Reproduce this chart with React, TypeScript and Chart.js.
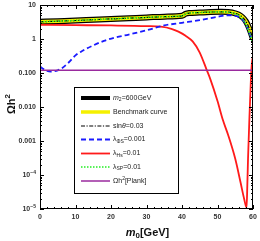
import React, { useEffect, useRef } from "react";
import { Chart, registerables } from "chart.js";

Chart.register(...registerables);

// ---------- data ----------
const m2X = [0, 5, 10, 15, 20, 25, 30, 35, 40, 41, 42, 45, 48, 51, 53, 55, 56, 57, 58, 59, 60];
const m2Values = [3.2, 3.35, 3.5, 3.7, 3.9, 4.1, 4.3, 4.55, 4.8, 5.5, 5.8, 6.0, 6.2, 6.3, 6.2, 5.7, 5.2, 4.4, 3.3, 2.0, 1.0];
const benchX = [0, 5, 10, 15, 20, 25, 30, 35, 40, 41, 42, 45, 48, 51, 53, 55, 56, 57, 58, 59, 60];
const benchValues = [3.2, 3.35, 3.5, 3.7, 3.9, 4.1, 4.3, 4.55, 4.8, 5.5, 5.8, 6.0, 6.2, 6.3, 6.2, 5.7, 5.2, 4.4, 3.3, 2.0, 1.0];
const sinX = [0, 5, 10, 15, 20, 25, 30, 35, 40, 41, 42, 45, 48, 51, 53, 55, 56, 57, 58, 59, 60];
const sinValues = [3.2, 3.35, 3.5, 3.7, 3.9, 4.1, 4.3, 4.55, 4.8, 5.5, 5.8, 6.0, 6.2, 6.3, 6.2, 5.7, 5.2, 4.4, 3.3, 2.0, 1.0];
const lamPhiSX = [0, 1, 2, 3, 4, 5, 6, 8, 10, 12, 15, 18, 21, 25, 30, 35, 40, 45, 50, 53, 55, 56, 57, 58, 59, 60];
const lamPhiSValues = [0.155, 0.13, 0.115, 0.11, 0.112, 0.12, 0.135, 0.2, 0.33, 0.45, 0.65, 0.88, 1.1, 1.35, 1.8, 2.5, 3.0, 3.6, 4.5, 5.0, 4.9, 4.5, 3.8, 2.7, 1.5, 0.8];
const lamHsX = [0, 10, 20, 30, 34, 37, 39, 41, 43, 45, 47, 48, 50, 51.5, 53, 55, 56.5, 57.5, 58.2, 58.4, 58.6, 59, 59.4, 59.7, 60];
const lamHsValues = [2.6, 2.55, 2.5, 2.4, 2.3, 2.0, 1.65, 1.25, 0.85, 0.4, 0.12, 0.065, 0.015, 0.0042, 0.0015, 0.0003, 0.00006, 0.00002, 0.000011, 0.00005, 0.0003, 0.005, 0.06, 0.2, 0.3];
const lamSPX = [0, 5, 10, 15, 20, 25, 30, 35, 40, 41, 42, 45, 48, 51, 53, 55, 56, 57, 58, 59, 60];
const lamSPValues = [3.2, 3.35, 3.5, 3.7, 3.9, 4.1, 4.3, 4.55, 4.8, 5.5, 5.8, 6.0, 6.2, 6.3, 6.1, 5.5, 4.9, 3.9, 2.7, 1.5, 0.75];
const planckX = [0, 60];
const planckValues = [0.12, 0.12];

const xTickValues = [0, 10, 20, 30, 40, 50, 60];
const xTickLabels = ["0", "10", "20", "30", "40", "50", "60"];
const yTickValues = [10, 1, 0.1, 0.01, 0.001, 1e-4, 1e-5];
const yTickLabels = ["10", "1", "0.100", "0.010", "0.001", "10^-4", "10^-5"];

type Part = { t: string; i?: boolean; sub?: boolean; sup?: boolean; b?: boolean };
const legendParts: Part[][] = [
  [{ t: "m", i: true }, { t: "2", sub: true }, { t: "=600GeV" }],
  [{ t: "Benchmark curve" }],
  [{ t: "sin" }, { t: "θ", i: true }, { t: "=0.03" }],
  [{ t: "λ" }, { t: "ΦS", sub: true }, { t: "=0.001" }],
  [{ t: "λ" }, { t: "Hs", sub: true }, { t: "=0.01" }],
  [{ t: "λ" }, { t: "SP", sub: true }, { t: "=0.01" }],
  [{ t: "Ωh" }, { t: "2", sup: true }, { t: "[Plank]" }],
];

const FONT = '"Liberation Sans", Arial, sans-serif';

function pts(xs: number[], ys: number[]) {
  return xs.map((x, i) => ({ x, y: ys[i] }));
}

function drawRich(ctx: CanvasRenderingContext2D, x: number, y: number, parts: Part[], size: number, bold = false) {
  ctx.textBaseline = "middle";
  ctx.textAlign = "left";
  for (const p of parts) {
    const s = p.sub || p.sup ? size * 0.72 : size;
    ctx.font = `${p.i ? "italic " : ""}${bold || p.b ? "bold " : ""}${s}px ${FONT}`;
    const dy = p.sub ? size * 0.3 : p.sup ? -size * 0.38 : 0;
    ctx.fillText(p.t, x, y + dy);
    x += ctx.measureText(p.t).width;
  }
  return x;
}

function richWidth(ctx: CanvasRenderingContext2D, parts: Part[], size: number, bold = false) {
  let w = 0;
  for (const p of parts) {
    const s = p.sub || p.sup ? size * 0.72 : size;
    ctx.font = `${p.i ? "italic " : ""}${bold || p.b ? "bold " : ""}${s}px ${FONT}`;
    w += ctx.measureText(p.t).width;
  }
  return w;
}

function labelParts(lbl: string): Part[] {
  if (lbl.includes("^")) {
    const [a, b] = lbl.split("^");
    return [{ t: a }, { t: b.replace("-", "−"), sup: true }];
  }
  return [{ t: lbl }];
}

const decorPlugin = {
  id: "decor",
  afterDatasetsDraw(chart: any) {
    const ctx: CanvasRenderingContext2D = chart.ctx;
    const { left, right, top, bottom } = chart.chartArea;
    const xs = chart.scales.x;
    const ys = chart.scales.y;
    ctx.save();
    // frame
    ctx.strokeStyle = "#000";
    ctx.lineWidth = 1;
    ctx.setLineDash([]);
    ctx.strokeRect(left + 0.5, top + 0.5, right - left - 1, bottom - top - 1);

    // x ticks
    ctx.beginPath();
    for (let v = 0; v <= 60; v += 2) {
      const px = Math.round(xs.getPixelForValue(v)) + 0.5;
      const major = v % 10 === 0;
      const len = major ? 4 : 2;
      ctx.moveTo(px, bottom);
      ctx.lineTo(px, bottom - len);
      ctx.moveTo(px, top);
      ctx.lineTo(px, top + len);
    }
    // y ticks
    for (let e = -5; e <= 1; e++) {
      for (let m = 1; m <= 9; m++) {
        const val = m * Math.pow(10, e);
        if (val > 10.0001 || val < 1e-5) continue;
        const py = Math.round(ys.getPixelForValue(val)) + 0.5;
        const len = m === 1 ? 4 : 2;
        ctx.moveTo(left, py);
        ctx.lineTo(left + len, py);
        ctx.moveTo(right, py);
        ctx.lineTo(right - len, py);
      }
    }
    ctx.stroke();

    // tick labels
    ctx.fillStyle = "#333";
    xTickValues.forEach((v, i) => {
      const px = xs.getPixelForValue(v);
      ctx.font = `bold 7px ${FONT}`;
      ctx.textAlign = "center";
      ctx.textBaseline = "middle";
      ctx.fillText(xTickLabels[i], px, bottom + 8);
    });
    yTickValues.forEach((v, i) => {
      const py = ys.getPixelForValue(v);
      const parts = labelParts(yTickLabels[i]);
      const w = richWidth(ctx, parts, 7, true);
      drawRich(ctx, left - 4 - w, py, parts, 7, true);
    });

    // axis titles
    ctx.fillStyle = "#111";
    const xt: Part[] = [{ t: "m", i: true }, { t: "0", sub: true }, { t: "[GeV]" }];
    const xw = richWidth(ctx, xt, 11, true);
    drawRich(ctx, (left + right) / 2 - xw / 2 + 1, bottom + 24, xt, 11, true);

    ctx.save();
    ctx.translate(12, 104);
    ctx.rotate(-Math.PI / 2);
    const yt: Part[] = [{ t: "Ωh" }, { t: "2", sup: true }];
    const yw = richWidth(ctx, yt, 11, true);
    drawRich(ctx, -yw / 2, 0, yt, 11, true);
    ctx.restore();

    // legend
    const lx = 74, ly = 87, lw = 104, lh = 106;
    ctx.fillStyle = "#fff";
    ctx.fillRect(lx, ly, lw, lh);
    ctx.strokeStyle = "#000";
    ctx.lineWidth = 1;
    ctx.strokeRect(lx + 0.5, ly + 0.5, lw, lh);
    const rows = [98, 112, 126, 139.5, 153.5, 167, 181];
    const order = [0, 1, 2, 3, 4, 5, 6];
    order.forEach((di, r) => {
      const ds = chart.data.datasets[di];
      const y = rows[r];
      ctx.save();
      ctx.strokeStyle = ds.borderColor;
      ctx.lineWidth = ds.legendWidth || ds.borderWidth;
      ctx.setLineDash(ds.borderDash || []);
      ctx.beginPath();
      ctx.moveTo(81, y);
      ctx.lineTo(110, y);
      ctx.stroke();
      ctx.restore();
      ctx.fillStyle = "#222";
      drawRich(ctx, 113, y, legendParts[r], 7);
    });
    ctx.restore();
  },
};

export default function App() {
  const ref = useRef<HTMLCanvasElement | null>(null);
  useEffect(() => {
    if (!ref.current) return;
    const common = { pointRadius: 0, fill: false, cubicInterpolationMode: "monotone" as const };
    const chart = new Chart(ref.current, {
      type: "line",
      data: {
        datasets: [
          { ...common, label: "m2=600GeV", data: pts(m2X, m2Values), borderColor: "#000", borderWidth: 6, legendWidth: 4, order: 6 } as any,
          { ...common, label: "Benchmark curve", data: pts(benchX, benchValues), borderColor: "#f5f000", borderWidth: 3.5, order: 5 } as any,
          { ...common, label: "sinθ=0.03", data: pts(sinX, sinValues), borderColor: "#000", borderWidth: 1.2, borderDash: [4, 1.5, 1.2, 1.5], order: 4 } as any,
          { ...common, label: "λΦS=0.001", data: pts(lamPhiSX, lamPhiSValues), borderColor: "#1a1aff", borderWidth: 1.8, borderDash: [5, 3], order: 2 } as any,
          { ...common, label: "λHs=0.01", data: pts(lamHsX, lamHsValues), borderColor: "#ff1a1a", borderWidth: 1.8, order: 3 } as any,
          { ...common, label: "λSP=0.01", data: pts(lamSPX, lamSPValues), borderColor: "#22ee22", borderWidth: 1.6, borderDash: [1.5, 1.5], order: 1 } as any,
          { ...common, label: "Ωh2[Plank]", data: pts(planckX, planckValues), borderColor: "#9a2a9e", borderWidth: 1.5, order: 0 } as any,
        ],
      },
      options: {
        animation: false,
        responsive: false,
        devicePixelRatio: 1,
        layout: { padding: { left: 40, top: 5, right: 7, bottom: 32 } },
        plugins: { legend: { display: false }, tooltip: { enabled: false } },
        scales: {
          x: { type: "linear", min: 0, max: 60, display: false },
          y: { type: "logarithmic", min: 1e-5, max: 10, display: false },
        },
      },
      plugins: [decorPlugin],
    });
    return () => chart.destroy();
  }, []);
  return (
    <div style={{ position: "fixed", left: 0, top: 0, width: 260, height: 241, background: "#fff" }}>
      <canvas ref={ref} width={260} height={241} style={{ width: 260, height: 241 }} />
    </div>
  );
}
